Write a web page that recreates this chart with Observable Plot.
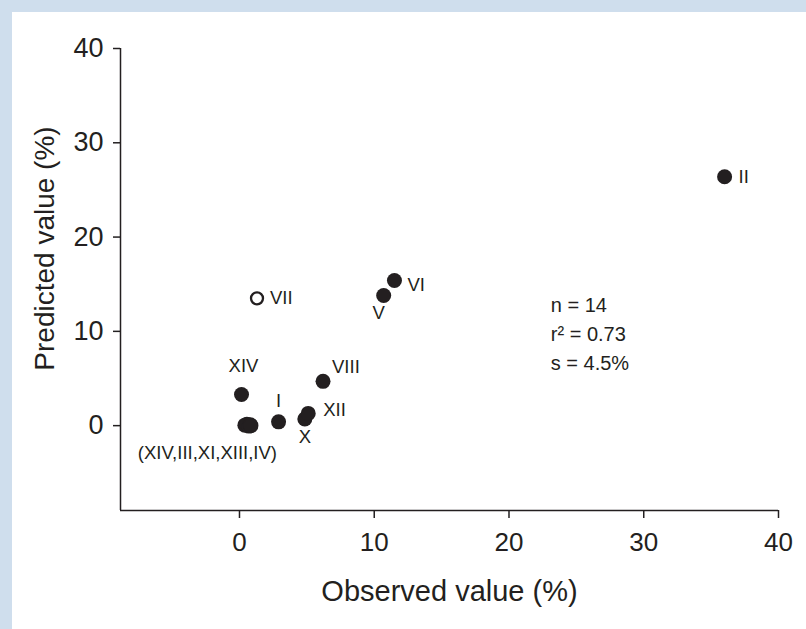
<!DOCTYPE html>
<html><head><meta charset="utf-8">
<script src="https://cdn.jsdelivr.net/npm/d3@7"></script>
<script src="https://cdn.jsdelivr.net/npm/@observablehq/plot@0.6"></script>
<style>
html,body{margin:0;padding:0;background:#cfdeed;overflow:hidden;}
#panel{position:absolute;left:12px;top:12px;width:794px;height:617px;background:#fff;overflow:hidden;}
</style></head><body><div id="panel"></div>
<script>
// ---- data ----
const ids       = ["II", "VI", "V", "VII", "VIII", "XIV", "I", "X", "XII", "XIV", "III", "XI", "XIII", "IV"];
const observed  = [36.0, 11.5, 10.7, 1.3, 6.2, 0.15, 2.9, 4.85, 5.1, 0.4, 0.55, 0.7, 0.8, 0.85];
const predicted = [26.4, 15.4, 13.8, 13.5, 4.7, 3.3, 0.4, 0.7, 1.3, 0.05, 0.15, -0.05, 0.1, 0.0];
const hollow    = [false, false, false, true, false, false, false, false, false, false, false, false, false, false];
const xTicks = [0, 10, 20, 30, 40];
const yTicks = [0, 10, 20, 30, 40];
const xTitle = "Observed value (%)";
const yTitle = "Predicted value (%)";
const statsLines = ["n = 14", "r\u00B2 = 0.73", "s = 4.5%"];

// ---- layout / style ----
const W = 794, H = 617;
const xDomain = [-8.83, 40], yDomain = [-9, 40];
const ink = "#231f20";
const font = '"Liberation Sans", Arial, Helvetica, sans-serif';

const data = ids.map((id, i) => ({id, x: observed[i], y: predicted[i], hollow: hollow[i]}));
const labeled = data.slice(0, 9);
const cluster = data.slice(9);
const clusterLabel = {
  id: "(" + cluster.map(d => d.id).join(",") + ")",
  x: d3.mean(cluster, d => d.x),
  y: d3.mean(cluster, d => d.y)
};

// label offsets: [dx, dy, textAnchor]
const offsets = {
  II:   [14, 0, "start"],
  VI:   [13, 5, "start"],
  V:    [-5, 18, "middle"],
  VII:  [13, 0, "start"],
  VIII: [9, -14, "start"],
  XIV:  [2, -28, "middle"],
  I:    [0, -21, "middle"],
  X:    [0, 18, "middle"],
  XII:  [15, -3, "start"]
};

const labelMarks = labeled.map(d => {
  const [dx, dy, anchor] = offsets[d.id];
  return Plot.text([d], {x: "x", y: "y", text: "id", dx, dy, textAnchor: anchor, fontSize: 18.5, fill: ink});
});

const chart = Plot.plot({
  width: W, height: H,
  marginLeft: 108, marginRight: 28, marginTop: 36, marginBottom: 119,
  style: {fontFamily: font, color: ink, background: "white", overflow: "visible"},
  x: {domain: xDomain},
  y: {domain: yDomain},
  marks: [
    Plot.ruleX([xDomain[0]], {stroke: ink, strokeWidth: 1.5}),
    Plot.ruleY([yDomain[0]], {stroke: ink, strokeWidth: 1.5}),
    Plot.axisX({ticks: xTicks, tickSize: 8, tickPadding: 14, fontSize: 26, label: null, color: ink, strokeWidth: 1.5}),
    Plot.axisY({ticks: yTicks, tickSize: 7, tickPadding: 10, fontSize: 27, label: null, color: ink, strokeWidth: 1.5}),
    Plot.text([xTitle], {text: d => d, frameAnchor: "bottom", textAnchor: "middle", dy: 81, lineAnchor: "middle", fontSize: 29, fill: ink}),
    Plot.text([yTitle], {text: d => d, frameAnchor: "left", textAnchor: "middle", rotate: -90, dx: -75, dy: -31, lineAnchor: "middle", fontSize: 28, fill: ink}),
    Plot.dot(data.filter(d => !d.hollow), {x: "x", y: "y", r: 7.5, fill: ink, stroke: "none"}),
    Plot.dot(data.filter(d => d.hollow), {x: "x", y: "y", r: 6, fill: "white", stroke: ink, strokeWidth: 2.3}),
    ...labelMarks,
    Plot.text([clusterLabel], {x: "x", y: "y", text: "id", dx: -41, dy: 28, fontSize: 18.5, fill: ink}),
    Plot.text([statsLines.join("\n")], {x: () => 23.1, y: () => 10, text: d => d, textAnchor: "start", lineAnchor: "middle", lineHeight: 1.45, fontSize: 20, fill: ink})
  ]
});
document.getElementById("panel").appendChild(chart);
</script>
</body></html>
